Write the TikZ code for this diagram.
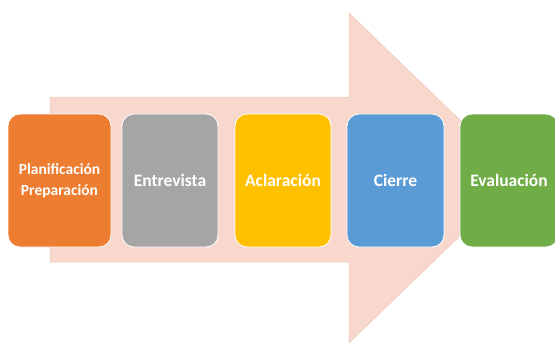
\documentclass[tikz,border=0pt]{standalone}
\usepackage{fontspec}
\setmainfont{Carlito}
\begin{document}
\begin{tikzpicture}[x=1pt,y=-1pt,
  stepbox/.style={rounded corners=12pt, draw=white, line width=0.8pt, minimum height=133pt, inner sep=0pt, text=white, font=\bfseries\fontsize{17.5}{21}\selectfont, align=center},
  bigarrow/.style={fill=arrowfill, draw=arrowedge, line width=0.5pt}]
\definecolor{arrowfill}{HTML}{F8D8CD}
\definecolor{arrowedge}{HTML}{EEC8BB}
\definecolor{c1}{HTML}{ED7D31}
\definecolor{c2}{HTML}{A5A5A5}
\definecolor{c3}{HTML}{FFC000}
\definecolor{c4}{HTML}{5B9BD5}
\definecolor{c5}{HTML}{70AD47}
\useasboundingbox (0,0) rectangle (555,343);
\draw[bigarrow] (50,97) -- (349,97) -- (349,13) -- (520,178) -- (349,343) -- (349,262) -- (50,262) -- cycle;
\node[stepbox, fill=c1, minimum width=103pt, font=\bfseries\fontsize{15.5}{21}\selectfont] (s1) at (59.5,180.5) {Planificación\\Preparación};
\node[stepbox, fill=c2, minimum width=96pt] (s2) at (170,180.5) {Entrevista};
\node[stepbox, fill=c3, minimum width=96pt] (s3) at (283,180.5) {Aclaración};
\node[stepbox, fill=c4, minimum width=97pt] (s4) at (395.5,180.5) {Cierre};
\node[stepbox, fill=c5, minimum width=98pt] (s5) at (509,180.5) {Evaluación};
\end{tikzpicture}
\end{document}
